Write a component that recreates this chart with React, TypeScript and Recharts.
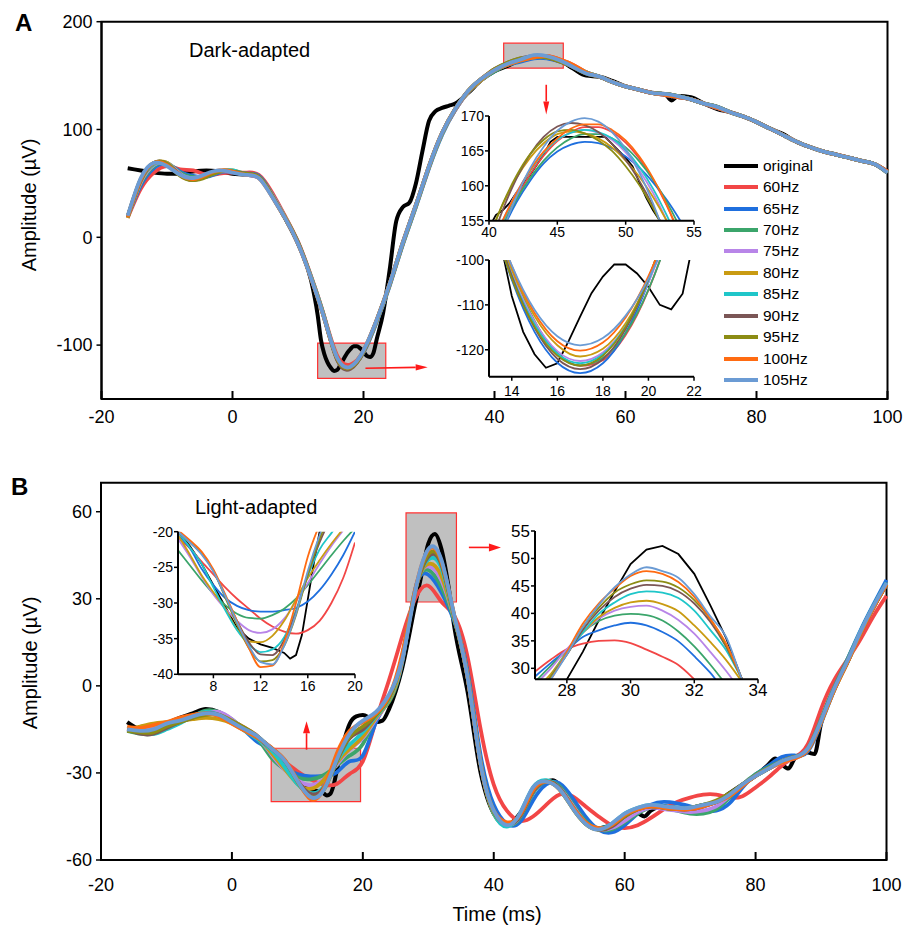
import { LineChart, Line, XAxis, YAxis, ReferenceArea, ReferenceLine } from "recharts";

const FONT = '"Liberation Sans", Arial, sans-serif';

const names = ["original", "60Hz", "65Hz", "70Hz", "75Hz", "80Hz", "85Hz", "90Hz", "95Hz", "100Hz", "105Hz"];
const colors = ["#000000", "#f24646", "#1f6fde", "#3ba56b", "#b885e8", "#c99b12", "#1fc6c9", "#7b5656", "#8c8c14", "#ff6b12", "#6b9bd4"];

const xTicksMain = [-20, 0, 20, 40, 60, 80, 100];

// ---------- panel A, main trace (ms, µV) ----------
const aTime = [-16, -14, -12, -10, -8, -6, -4, -2, 0, 2, 4, 6, 8, 10, 12, 14, 16, 18, 20, 22, 24, 26, 28, 30, 32, 34, 36, 38, 40, 42, 44, 46, 48, 50, 52, 54, 56, 58, 60, 62, 64, 66, 68, 70, 72, 74, 76, 78, 80, 82, 84, 86, 88, 90, 92, 94, 96, 98, 100];
const aFilt = [
  // 60Hz
  [18, 45, 60, 66, 63, 62, 58, 59, 60, 60, 58, 42, 20, -4, -36, -73, -110, -118, -106, -78, -44, -6, 29, 65, 96, 118, 135, 146, 155, 160, 164, 167, 168, 165, 160, 153, 149, 144, 140, 137, 134, 132, 130, 128, 124, 120, 116, 112, 107, 101, 95, 89, 84, 80, 77, 74, 71, 68, 61],
  // 65Hz
  [19, 48, 64, 68, 61, 57, 56, 60, 61, 59, 57, 40, 19, -5, -37, -74, -113, -121, -107, -79, -45, -7, 28, 64, 95, 118, 135, 146, 154, 160, 163, 166, 166, 163, 159, 153, 149, 144, 140, 137, 134, 132, 130, 128, 124, 120, 116, 112, 107, 101, 95, 89, 84, 80, 77, 74, 71, 68, 60],
  // 70Hz
  [19, 50, 66, 69, 60, 56, 57, 61, 61, 58, 56, 40, 19, -5, -37, -74, -113, -121, -106, -78, -44, -6, 29, 65, 96, 118, 135, 146, 154, 160, 164, 167, 167, 164, 159, 153, 149, 144, 140, 137, 134, 133, 131, 128, 124, 121, 116, 112, 107, 101, 95, 89, 84, 80, 77, 74, 71, 68, 60],
  // 75Hz
  [19, 51, 67, 69, 59, 55, 58, 61, 61, 58, 55, 40, 19, -5, -37, -74, -113, -121, -106, -78, -44, -6, 29, 65, 96, 118, 135, 146, 155, 161, 165, 167, 167, 164, 159, 153, 149, 144, 140, 137, 134, 133, 131, 128, 124, 121, 116, 112, 107, 101, 95, 89, 84, 80, 77, 74, 71, 68, 60],
  // 80Hz
  [18, 52, 68, 69, 58, 54, 57, 61, 62, 59, 56, 39, 19, -5, -37, -74, -113, -121, -106, -78, -44, -6, 29, 65, 96, 119, 135, 146, 155, 161, 165, 168, 167, 164, 159, 153, 149, 144, 140, 137, 134, 133, 131, 128, 124, 121, 116, 112, 107, 101, 95, 89, 84, 80, 77, 74, 71, 68, 60],
  // 85Hz
  [19, 53, 68, 68, 58, 54, 57, 61, 62, 59, 56, 39, 18, -5, -37, -74, -113, -121, -106, -78, -44, -6, 29, 65, 96, 119, 136, 147, 155, 161, 165, 167, 167, 164, 159, 153, 149, 144, 140, 137, 134, 133, 131, 128, 124, 121, 116, 112, 107, 101, 95, 89, 84, 80, 77, 74, 71, 68, 60],
  // 90Hz
  [19, 53, 69, 68, 58, 53, 57, 61, 61, 59, 56, 39, 18, -5, -38, -75, -114, -122, -106, -77, -43, -5, 30, 66, 97, 119, 136, 147, 156, 162, 166, 168, 167, 163, 158, 152, 149, 144, 140, 137, 134, 133, 131, 128, 124, 121, 116, 112, 107, 101, 95, 89, 84, 80, 77, 74, 71, 68, 60],
  // 95Hz
  [19, 54, 69, 68, 57, 53, 56, 61, 61, 59, 56, 39, 18, -5, -38, -75, -113, -121, -106, -77, -43, -5, 30, 66, 97, 119, 136, 147, 156, 162, 166, 167, 167, 163, 158, 152, 149, 144, 140, 137, 134, 133, 131, 128, 124, 121, 116, 112, 107, 101, 95, 89, 84, 80, 77, 74, 71, 68, 60],
  // 100Hz
  [19, 54, 69, 67, 58, 54, 58, 62, 61, 58, 55, 38, 18, -6, -38, -75, -112, -120, -105, -77, -43, -5, 30, 66, 97, 119, 136, 147, 155, 160, 164, 167, 168, 165, 160, 153, 149, 144, 140, 137, 134, 132, 130, 128, 124, 120, 116, 112, 107, 101, 95, 89, 84, 80, 77, 74, 71, 68, 61],
  // 105Hz
  [20, 55, 69, 66, 58, 55, 59, 62, 60, 58, 55, 38, 18, -6, -38, -75, -112, -120, -105, -77, -43, -5, 30, 66, 97, 119, 136, 147, 155, 161, 165, 169, 168, 164, 158, 152, 149, 144, 140, 137, 134, 133, 131, 128, 124, 121, 116, 112, 107, 101, 95, 89, 84, 80, 77, 74, 71, 68, 60],
];
const aOrigTime = [-16, -14, -12, -10, -8, -6, -4, -2, 0, 2, 4, 6, 8, 10, 12, 13, 13.5, 14, 14.5, 15, 15.5, 16, 16.5, 17, 17.5, 18, 18.5, 19, 19.5, 20, 20.5, 21, 21.5, 22, 23, 24, 25, 26, 27, 28, 29, 30, 31, 32, 33, 34, 36, 38, 40, 42, 44, 46, 48, 50, 52, 54, 56, 58, 60, 62, 64, 66, 67, 68, 70, 72, 74, 76, 78, 80, 82, 84, 86, 88, 90, 92, 94, 96, 98, 100];
const aOrig = [64, 62, 60, 59, 59, 61, 62, 61, 59, 58, 56, 40, 18, -6, -40, -72, -95, -108, -116, -121, -124, -123, -118, -112.6, -107.4, -103.7, -101, -101, -103, -106, -110, -111, -107.5, -95, -70, -30, 15, 28, 32, 50, 80, 108, 117, 120, 122, 124, 134, 146, 154, 159, 164.5, 167, 167, 164, 156.5, 150, 149, 145, 140, 137, 134, 133, 127, 131, 130, 124, 119, 116, 112, 107, 101, 96, 89, 84, 80, 77, 74, 71, 68, 61];

// ---------- panel A, inset peak 40–55 ms ----------
const a1Time = [40, 41, 42, 43, 44, 45, 46, 47, 48, 49, 50, 51, 52, 53, 54, 55];
const a1Filt = [
  [149.4, 154.4, 158.2, 161.6, 164.3, 166.4, 167.7, 168.4, 168.4, 167.7, 166.2, 163.9, 160.9, 157.2, 152.7, 147.4],
  [149.2, 153.7, 157.6, 160.7, 163.2, 164.9, 165.9, 166.3, 166.1, 165.4, 164.2, 162.6, 160.5, 158, 155, 151.6],
  [150.1, 154.2, 158, 161.1, 163.6, 165.5, 166.8, 167.4, 167.4, 166.8, 165.5, 163.5, 160.9, 157.7, 153.9, 149.4],
  [150.4, 155, 159, 162.2, 164.8, 166.6, 167.6, 168, 167.6, 166.6, 164.8, 162.2, 159, 155, 150.4, 145],
  [152.7, 157.3, 161.1, 164, 166.1, 167.4, 167.8, 167.5, 166.8, 165.5, 163.6, 161.3, 158.4, 155, 151.1, 146.7],
  [150, 154.7, 158.8, 162.1, 164.7, 166.6, 167.6, 168, 167.7, 166.8, 165.1, 162.7, 159.6, 155.8, 151.4, 146],
  [151, 156.5, 161, 164.5, 167, 168.5, 169, 168.7, 167.7, 166, 163.7, 160.7, 157.1, 152.8, 147.9, 142.3],
  [152.4, 157.4, 161.4, 164.5, 166.6, 167.8, 168, 167.5, 166.5, 165, 162.8, 160.1, 156.8, 152.9, 148.5, 143.5],
  [150.3, 155, 158.9, 162.2, 164.9, 166.8, 168.2, 168.8, 168.8, 168, 166.5, 164.2, 161.1, 157.3, 152.6, 147.2],
  [147.7, 153.5, 158.4, 162.5, 165.6, 167.9, 169.2, 169.7, 169.2, 167.7, 165.3, 161.9, 157.5, 152.1, 145.7, 138],
];
const a1OrigTime = [40, 40.5, 41, 41.5, 42, 43, 44, 44.5, 45, 46, 47, 48, 48.5, 49, 50, 50.5, 51, 51.5, 52, 52.5, 53];
const a1Orig = [154, 155.8, 156.5, 157.5, 159, 161.5, 164.5, 166.3, 167, 167, 167, 167, 167, 166, 164, 162.8, 160.5, 158.3, 156.5, 155, 153];

// ---------- panel A, inset trough 13–22 ms ----------
const a2Time = [13, 14, 15, 16, 17, 18, 19, 20, 21, 22];
const a2Filt = [
  [-87.5, -102.7, -113.8, -120.7, -123.6, -122.3, -116.7, -106.7, -92.4, -73.7],
  [-88.2, -104.4, -116, -122.9, -125.2, -123, -116.2, -105, -89.2, -69],
  [-86.8, -102.2, -113.5, -121, -123.5, -121.8, -116.3, -106.6, -92.7, -74],
  [-87.3, -102.7, -113.7, -120.3, -122.5, -120.6, -114.7, -105, -91.3, -73.8],
  [-87.2, -102.1, -112.5, -119, -121.5, -119.8, -114.1, -104.3, -90.5, -73],
  [-88.1, -103.4, -114.3, -120.8, -123, -121, -114.8, -104.6, -90.2, -71.8],
  [-87.5, -103.6, -115.1, -122, -124.3, -122.1, -115.4, -104.2, -88.6, -68.5],
  [-88.9, -104.1, -114.9, -121.3, -123.5, -121.3, -114.9, -104.1, -88.9, -69.7],
  [-86.6, -101.3, -111.8, -118.1, -120.2, -118.4, -112.8, -103.6, -90.6, -74],
  [-87.3, -101.2, -111.1, -117, -119, -117.4, -112.4, -104.2, -92.8, -78],
];
const a2OrigTime = [13, 13.5, 14, 14.5, 15, 15.5, 16, 16.5, 17, 17.5, 18, 18.5, 19, 19.5, 20, 20.5, 21, 21.5, 22];
const a2Orig = [-85, -96, -108, -116, -121, -124, -123, -118, -112.6, -107.4, -103.7, -101, -101, -103, -106, -110, -111, -107.5, -95];

// ---------- panel B, main trace ----------
const bTime = aTime;
const bFilt = [
  // 60Hz
  [-14.5, -15, -14, -13, -12, -10.5, -9.5, -10, -12, -14.5, -17.5, -22.3, -26, -29.4, -32.2, -34, -33.8, -30.3, -26, -12, 2, 17, 30, 34.5, 29, 24, 10, -15, -34, -43, -46.5, -45, -41, -37.5, -38, -41.5, -45, -48, -49, -48, -45.5, -42.5, -40, -38.5, -37.5, -37.5, -38.5, -38, -35, -31.5, -27.5, -24.5, -20, -8, 2, 9, 16, 24, 31],
  // 65Hz
  [-15, -15.5, -15, -13.5, -12, -10.5, -9.5, -9.5, -12, -15.5, -19.5, -22.3, -27.5, -30.4, -31.2, -31, -29.8, -26, -24, -12.5, -5, 8, 33.3, 38.3, 32.2, 22, 5, -24, -41, -47.5, -47, -39.5, -34, -33.5, -38.5, -45, -49.5, -50.5, -48, -44, -41, -40, -40.5, -41.5, -43, -43, -40.5, -35, -30.5, -27.5, -24.5, -24, -22.5, -13, -1.5, 9, 19, 28, 36.5],
  // 70Hz
  [-15.5, -16.5, -16.5, -14.5, -12.5, -10.5, -8.5, -9, -11.5, -15, -18.5, -24.7, -28.7, -31.5, -32.2, -30.8, -27.5, -24, -20, -11, -5.5, 8, 33.3, 39.9, 34, 22.5, 4, -26, -43, -48, -45.5, -37, -33, -34.5, -40.5, -46.5, -49.5, -49.5, -47, -44, -42, -42, -43, -44, -44, -42.5, -38.5, -34, -30.5, -28, -26, -24.5, -21.5, -11.5, -0.5, 9, 18.5, 27.5, 35.5],
  // 75Hz
  [-14.5, -14.5, -14.5, -13.5, -12, -10.5, -9.5, -9, -11.5, -15, -18, -23.5, -28.8, -32.5, -34.2, -32.2, -27.2, -22, -18, -11.5, -5, 8.5, 33.5, 41.2, 36.3, 23, 3.5, -26.5, -43.5, -48, -45, -36.5, -33, -35, -41, -47, -49.5, -49, -46.5, -43.5, -42, -42.5, -43, -43.5, -43, -41.5, -38, -34, -31, -28.5, -26.5, -25, -22, -12.5, -1.5, 8, 18, 27, 35],
  // 80Hz
  [-15, -14, -13, -12.5, -12, -11.5, -11, -11.5, -13, -15.5, -18, -23, -28.5, -33.7, -35.5, -32.5, -26.5, -21.7, -17.5, -11, -5, 9, 33, 42, 37.8, 23, 3, -27, -44, -48, -44.5, -35.5, -33, -35.5, -42, -47.5, -49.5, -48, -44.5, -42.5, -41.5, -42, -42.5, -42.5, -41.5, -40, -37.5, -34, -31, -28.5, -26, -24.5, -22, -12.5, -1.5, 8, 18, 27, 35],
  // 85Hz
  [-14.5, -15, -16.5, -15, -13, -10.5, -9, -10, -12.5, -15.5, -18.5, -22.2, -27.8, -33.8, -36.9, -34.8, -26.2, -20.2, -16, -10.5, -4.5, 10, 33, 43.5, 40.5, 23, 3, -27, -44, -48.5, -44, -35, -32.5, -35, -41.5, -47, -49, -47.5, -44, -42, -41, -41.5, -42, -42, -41, -40, -37.5, -34, -31, -28.5, -26, -24.5, -22, -12, -1, 8.5, 18.5, 27.5, 35.5],
  // 90Hz
  [-15, -16.5, -16.5, -14.5, -12.5, -11, -9.5, -10, -12.5, -15, -18, -21.5, -25.5, -32.5, -37.2, -35.2, -26, -18, -15, -10, -4, 10, 32.5, 44.5, 41.8, 23.5, 3, -27, -43, -47.5, -45, -36.5, -33, -35, -41.5, -47, -49.5, -48.5, -45, -42.5, -41.5, -42, -42.5, -42.5, -41.5, -40, -37.5, -34, -31, -28.5, -26, -24.5, -22, -12, -1, 8.5, 18, 27, 35],
  // 95Hz
  [-15.5, -16, -16, -14, -12.5, -11, -10, -10, -12, -14.5, -17.5, -21.5, -25.5, -33, -38.2, -36, -26, -17.5, -14, -10, -4, 10, 32.5, 45.3, 42.4, 23.5, 3, -27, -43.5, -47.5, -44.5, -36, -33, -35.5, -42, -47.5, -49.5, -48, -45, -42.5, -41.5, -42, -42.5, -42, -41, -39.5, -37, -34, -31, -28.5, -26, -24.5, -22, -12.5, -1.5, 8, 18, 27, 35],
  // 100Hz
  [-14, -14.5, -13.5, -12.5, -11, -10, -9.5, -10.5, -13, -15.5, -18, -21.2, -25.3, -32.5, -39, -35.5, -23.5, -15.5, -12.5, -9.5, -3.5, 11, 33, 46.8, 43, 24, 3, -27, -43, -47, -44.5, -36, -33, -35.5, -41.5, -47, -49, -48, -44.5, -42.5, -41.5, -42, -42.5, -42.5, -41.5, -40, -38, -34.5, -31, -28.5, -26.5, -25, -22, -12.5, -1.5, 8, 18, 27, 35],
  // 105Hz
  [-15, -15.5, -15, -13, -12, -10.5, -9.5, -10, -12.5, -15, -17.5, -21.5, -25.6, -32.7, -38.3, -36, -25.5, -16.5, -12, -9, -3, 9, 32.5, 47.1, 43.5, 24, 3, -27, -43, -48, -44, -35, -33, -35.5, -42, -47.5, -49.5, -47.5, -44, -42, -41, -41.5, -42, -42, -41, -40, -37.5, -34, -31, -28.5, -26, -24.5, -21.5, -12, -1, 8.5, 18.5, 27.5, 35.5],
];
const bOrigTime = [-16, -14, -12, -10, -8, -6, -4, -2, 0, 2, 4, 6, 8, 10, 12, 13, 14, 14.5, 15, 15.5, 16, 16.5, 17, 18, 19, 20, 21, 22, 23, 24, 26, 28, 29, 30, 31, 32, 33, 34, 36, 38, 40, 42, 44, 46, 48, 49, 50, 52, 54, 56, 58, 60, 62, 63, 64, 66, 68, 70, 72, 74, 76, 78, 80, 82, 83, 84, 85, 86, 88, 89, 90, 92, 94, 96, 98, 100];
const bOrig = [-12.5, -15, -15.5, -13, -11, -9.5, -8, -9, -12, -15, -18, -21.5, -27, -33.5, -35.8, -36.3, -37, -37.8, -37.3, -34.5, -29.5, -24.5, -20, -13, -10.5, -10, -11, -12.5, -12, -8, 6, 28, 38.7, 49, 52.3, 47.2, 35.5, 20, -2, -30, -44, -48, -44, -36, -33, -32.5, -34, -41, -47, -49, -48, -46, -44, -45, -43, -41.5, -42, -42, -41, -40, -37, -34, -31, -27, -25, -27, -28.5, -25, -23, -23.5, -13, -1, 8, 18, 27, 35];

// ---------- panel B, inset trough 5–20 ms ----------
const b1Time = [5, 6, 7, 8, 9, 10, 11, 12, 13, 14, 15, 16, 17, 18, 19, 20];
const b1Filt = [
  [-20.9, -22.3, -24.2, -26, -27.8, -29.4, -30.8, -32.2, -33.3, -34, -34.3, -33.8, -32.5, -30, -26.5, -21.5],
  [-20.5, -22.3, -25.2, -27.5, -29.3, -30.4, -31, -31.2, -31.2, -31, -30.7, -29.8, -28.2, -26, -23.3, -20],
  [-22.6, -24.7, -26.8, -28.7, -30.3, -31.5, -32.1, -32.2, -31.7, -30.8, -29.4, -27.5, -25.4, -23.3, -21.3, -19.5],
  [-21, -23.5, -26.3, -28.8, -30.8, -32.5, -33.8, -34.2, -33.7, -32.2, -29.8, -27.2, -24.5, -22, -19.8, -17.5],
  [-20.5, -23.2, -26.1, -28.5, -30.8, -33.7, -35.4, -35.5, -34.6, -32.5, -29.5, -26.5, -24, -21.7, -19.6, -17.5],
  [-20, -22.2, -24.5, -27.8, -31, -33.8, -35.8, -36.9, -36.5, -34.8, -31, -26.2, -22.5, -20.2, -18, -16],
  [-20, -21.5, -23, -25.5, -29, -32.5, -35.5, -37.2, -37.3, -35.2, -31.3, -26, -21.5, -18, -15.5, -13.5],
  [-20, -21.5, -23, -25.5, -29.2, -33, -36.3, -38.2, -38, -36, -31.7, -26, -21, -17.5, -15, -13],
  [-19.8, -21.2, -22.8, -25.3, -28.8, -32.5, -36.3, -39, -38.8, -35.5, -30, -23.5, -19, -15.5, -13, -11],
  [-20, -21.5, -23.2, -25.6, -29, -32.7, -36, -38.3, -38.6, -36, -31.5, -25.5, -20.5, -16.5, -14, -12],
];
const b1OrigTime = [5, 6, 7, 8, 9, 10, 11, 12, 13, 14, 14.5, 15, 15.5, 16, 16.5, 17, 17.5, 18];
const b1Orig = [-20, -22, -24.5, -27.5, -30.5, -33.5, -35, -35.8, -36.3, -37, -37.8, -37.3, -34.5, -29.5, -24.5, -20, -16, -13];

// ---------- panel B, inset peak 27–34 ms ----------
const b2Time = [27, 27.5, 28, 28.5, 29, 29.5, 30, 30.5, 31, 31.5, 32, 32.5, 33, 33.5, 34];
const b2Filt = [
  [29.4, 31.6, 33.5, 34.5, 35, 35.1, 34.6, 33.4, 32.1, 30.6, 28, 25, 22, 19, 16],
  [28.5, 31, 33.3, 35.7, 36.9, 37.8, 38.3, 37.8, 36.6, 34.9, 32.2, 29.2, 25.5, 22, 18],
  [27.5, 30.5, 33.3, 36.5, 38.6, 39.6, 39.9, 39.7, 38.7, 36.7, 34, 30.7, 27, 23, 19],
  [27, 30, 33.5, 36.5, 39, 40.5, 41.2, 41.4, 40.5, 38.8, 36.3, 33, 29.5, 25.5, 21],
  [26, 29, 33, 36.5, 39.3, 41, 42, 42.3, 41.7, 40.4, 37.8, 34.8, 31.5, 27.5, 23],
  [25.5, 28.5, 33, 36.5, 39.9, 42, 43.5, 44, 43.8, 42.8, 40.5, 37, 33.3, 28, 23],
  [25, 28.5, 32.5, 37, 40.5, 43, 44.5, 45.2, 45, 44, 41.8, 38.5, 33.9, 28, 22],
  [25, 28.5, 32.5, 37.5, 41, 43.8, 45.3, 46, 45.8, 44.7, 42.4, 39, 34.2, 28, 22],
  [24.5, 28, 33, 38.1, 41.8, 44.5, 46.8, 47.7, 47.2, 45.7, 43, 39, 34.5, 28, 22],
  [24, 28, 32.5, 37.5, 41.5, 44.8, 47.1, 48.4, 47.7, 46.5, 43.5, 39.5, 35.7, 28, 22],
];
const b2Orig = [18, 22, 28, 33, 38.7, 44, 49, 51.6, 52.3, 50.8, 47.2, 41.5, 35.5, 28, 20];

type Pt = { t: number; v: number };
const zip = (ts: number[], vs: number[]): Pt[] => ts.map((t, i) => ({ t, v: vs[i] }));

function traces(
  time: number[], filt: number[][], origTime: number[], orig: number[],
  w: number, wo: number, ft: "natural" | "monotone", ot: "monotone" | "linear",
) {
  return [
    <Line key="orig" data={zip(origTime, orig)} dataKey="v" type={ot} stroke={colors[0]}
      strokeWidth={wo} dot={false} activeDot={false} isAnimationActive={false} />,
    ...filt.map((vals, j) => (
      <Line key={names[j + 1]} data={zip(time, vals)} dataKey="v" type={ft} stroke={colors[j + 1]}
        strokeWidth={w} dot={false} activeDot={false} isAnimationActive={false} />
    )),
  ];
}

// tick pointing into the plot, label below
function InTick(p: any) {
  const { x, y, payload, gap } = p;
  return (
    <g>
      <line x1={x} x2={x} y1={y} y2={y - 8} stroke="#000" strokeWidth={2} />
      <text x={x} y={y + gap} textAnchor="middle" fontSize={18} fill="#000">{payload.value}</text>
    </g>
  );
}

function Arrow(p: any) {
  const { x1, y1, x2, y2, len = 12, half = 4 } = p;
  if (x1 == null || x2 == null) return null;
  const a = Math.atan2(y2 - y1, x2 - x1);
  const bx = x2 - len * Math.cos(a);
  const by = y2 - len * Math.sin(a);
  const pts = `${x2},${y2} ${bx - half * Math.sin(a)},${by + half * Math.cos(a)} ${bx + half * Math.sin(a)},${by - half * Math.cos(a)}`;
  return (
    <g>
      <line x1={x1} y1={y1} x2={bx} y2={by} stroke="#ff1a1a" strokeWidth={1.6} />
      <polygon points={pts} fill="#ff1a1a" />
    </g>
  );
}

const axisLine = { stroke: "#000", strokeWidth: 2 };
const tickLine = { stroke: "#000", strokeWidth: 1.5 };
const box = { fill: "#c0c0c0", fillOpacity: 1, stroke: "#ff3030", strokeWidth: 1.2 };

function Inset(props: any) {
  const { left, top, width, height, margin, xDomain, yDomain, xTicks, yTicks, fontSize, xGap,
    time, filt, origTime, orig } = props;
  return (
    <div style={{ position: "absolute", left, top }}>
      <LineChart width={width} height={height} margin={margin}>
        <XAxis dataKey="t" type="number" domain={xDomain} ticks={xTicks} allowDataOverflow interval={0}
          axisLine={axisLine} tickLine={tickLine} tickSize={4} tickMargin={xGap} height={25}
          tick={{ fill: "#000", fontSize }} />
        <YAxis type="number" domain={yDomain} ticks={yTicks} allowDataOverflow interval={0} width={40}
          axisLine={axisLine} tickLine={tickLine} tickSize={4} tickMargin={1}
          tick={{ fill: "#000", fontSize }} />
        {traces(time, filt, origTime, orig, 1.8, 1.8, "monotone", "linear")}
      </LineChart>
    </div>
  );
}

export default function App() {
  return (
    <div style={{ position: "absolute", left: 0, top: 0, width: 913, height: 930, background: "#fff", fontFamily: FONT }}>
      {/* panel A */}
      <div style={{ position: "absolute", left: 0, top: 0 }}>
        <LineChart width={913} height={440} margin={{ top: 21.7, right: 25.5, bottom: 11, left: 41.5 }}>
          <XAxis dataKey="t" type="number" domain={[-20, 100]} ticks={xTicksMain} interval={0} height={30}
            axisLine={axisLine} tickLine={false} tickSize={0} tickMargin={0}
            tick={(p: any) => <InTick {...p} gap={24} />} />
          <YAxis type="number" domain={[-150, 200]} ticks={[-100, 0, 100, 200]} interval={0} width={60}
            axisLine={axisLine} tickLine={tickLine} tickSize={5} tickMargin={4}
            tick={{ fill: "#000", fontSize: 18 }} />
          <ReferenceArea x1={13} x2={23.4} y1={-130.9} y2={-98.1} {...box} />
          <ReferenceArea x1={41.4} x2={50.5} y1={156.9} y2={180.1} {...box} />
          <ReferenceArea x1={-20} x2={100} y1={-150} y2={200} fill="none" stroke="#000" strokeWidth={2} />
          {traces(aTime, aFilt, aOrigTime, aOrig, 3.8, 4, "natural", "monotone")}
          <ReferenceLine segment={[{ x: 20.3, y: -121.5 }, { x: 29.8, y: -120.5 }]}
            shape={(p: any) => <Arrow {...p} len={12} half={3.2} />} />
          <ReferenceLine segment={[{ x: 47.9, y: 141.5 }, { x: 47.9, y: 114 }]}
            shape={(p: any) => <Arrow {...p} len={13} half={3} />} />
        </LineChart>
      </div>

      {/* panel B */}
      <div style={{ position: "absolute", left: 0, top: 440 }}>
        <LineChart width={913} height={490} margin={{ top: 42.7, right: 26.5, bottom: 40, left: 41 }}>
          <XAxis dataKey="t" type="number" domain={[-20, 100]} ticks={xTicksMain} interval={0} height={30}
            axisLine={axisLine} tickLine={false} tickSize={0} tickMargin={0}
            tick={(p: any) => <InTick {...p} gap={31} />} />
          <YAxis type="number" domain={[-60, 70]} ticks={[-60, -30, 0, 30, 60]} interval={0} width={60}
            axisLine={axisLine} tickLine={tickLine} tickSize={5} tickMargin={4}
            tick={{ fill: "#000", fontSize: 18 }} />
          <ReferenceArea x1={6} x2={19.65} y1={-39.9} y2={-21.5} {...box} />
          <ReferenceArea x1={26.6} x2={34.3} y1={28.9} y2={59.6} {...box} />
          <ReferenceArea x1={-20} x2={100} y1={-60} y2={70} fill="none" stroke="#000" strokeWidth={2} />
          {traces(bTime, bFilt, bOrigTime, bOrig, 3.8, 4, "natural", "monotone")}
          <ReferenceLine segment={[{ x: 11.4, y: -22 }, { x: 11.4, y: -12.2 }]}
            shape={(p: any) => <Arrow {...p} len={12} half={3.5} />} />
          <ReferenceLine segment={[{ x: 36.2, y: 47.7 }, { x: 41.1, y: 47.7 }]}
            shape={(p: any) => <Arrow {...p} len={12} half={4} />} />
        </LineChart>
      </div>

      <Inset left={440} top={100} width={270} height={150}
        margin={{ top: 16, right: 16, bottom: 4.3, left: 9 }}
        xDomain={[40, 55]} yDomain={[155, 170]} xTicks={[40, 45, 50, 55]} yTicks={[155, 160, 165, 170]}
        fontSize={14} xGap={2} time={a1Time} filt={a1Filt} origTime={a1OrigTime} orig={a1Orig} />
      <Inset left={440} top={245} width={270} height={160}
        margin={{ top: 15, right: 16, bottom: 3.3, left: 9 }}
        xDomain={[13, 22]} yDomain={[-126, -100]} xTicks={[14, 16, 18, 20, 22]} yTicks={[-120, -110, -100]}
        fontSize={14} xGap={5} time={a2Time} filt={a2Filt} origTime={a2OrigTime} orig={a2Orig} />
      <Inset left={130} top={515} width={240} height={190}
        margin={{ top: 16.7, right: 15, bottom: 5.7, left: 8 }}
        xDomain={[5, 20]} yDomain={[-40, -20]} xTicks={[8, 12, 16, 20]} yTicks={[-40, -35, -30, -25, -20]}
        fontSize={14} xGap={3} time={b1Time} filt={b1Filt} origTime={b1OrigTime} orig={b1Orig} />
      <Inset left={480} top={515} width={290} height={190}
        margin={{ top: 16, right: 12, bottom: 0.7, left: 15 }}
        xDomain={[27, 34]} yDomain={[28, 55]} xTicks={[28, 30, 32, 34]} yTicks={[30, 35, 40, 45, 50, 55]}
        fontSize={17} xGap={1} time={b2Time} filt={b2Filt} origTime={b2Time} orig={b2Orig} />

      {/* legend */}
      <div style={{ position: "absolute", left: 724, top: 155, fontSize: 15.5, color: "#000" }}>
        {names.map((n, i) => (
          <div key={n} style={{ display: "flex", alignItems: "center", height: 21.43 }}>
            <span style={{ display: "inline-block", width: 34, height: 4, background: colors[i], marginRight: 5 }} />
            <span>{n}</span>
          </div>
        ))}
      </div>

      {/* titles and axis labels */}
      <svg width={913} height={930} style={{ position: "absolute", left: 0, top: 0, pointerEvents: "none" }}
        fontFamily={FONT}>
        <text x={15} y={31} fontSize={24} fontWeight="bold">A</text>
        <text x={11} y={495} fontSize={24} fontWeight="bold">B</text>
        <text x={189} y={57} fontSize={20}>Dark-adapted</text>
        <text x={195} y={514} fontSize={20}>Light-adapted</text>
        <text transform="translate(29 205) rotate(-90)" textAnchor="middle" dominantBaseline="central" fontSize={20}>Amplitude (µV)</text>
        <text transform="translate(30 663) rotate(-90)" textAnchor="middle" dominantBaseline="central" fontSize={20}>Amplitude (µV)</text>
        <text x={497} y={921} textAnchor="middle" fontSize={20}>Time (ms)</text>
      </svg>
    </div>
  );
}
